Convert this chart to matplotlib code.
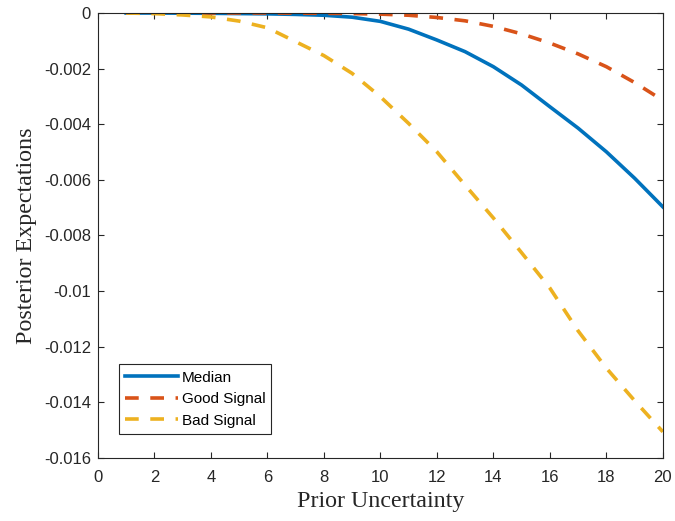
import numpy as np
import matplotlib
matplotlib.use("Agg")
import matplotlib.pyplot as plt

# values
prior_uncertainty = list(range(1, 21))
median = [0.0, 0.0, -0.000005, -0.00001, -0.00002, -0.00003, -0.00005, -0.00008,
          -0.00015, -0.0003, -0.00058, -0.00097, -0.00139, -0.00193, -0.00259,
          -0.00337, -0.00414, -0.00499, -0.00594, -0.00697]
good_signal = [0.0, 0.0, 0.0, 0.0, 0.0, 0.0, -0.000005, -0.00001, -0.00002,
               -0.00004, -0.00008, -0.00016, -0.00028, -0.00048, -0.00075,
               -0.00108, -0.00147, -0.00193, -0.0025, -0.00314]
bad_signal = [0.0, -0.00002, -0.00007, -0.00014, -0.00029, -0.00053, -0.00103,
              -0.00153, -0.00217, -0.00301, -0.00397, -0.00499, -0.00619,
              -0.00737, -0.00862, -0.00989, -0.01143, -0.01277, -0.01394, -0.01506]

x_ticks = list(range(0, 21, 2))
y_ticks = [0, -0.002, -0.004, -0.006, -0.008, -0.01, -0.012, -0.014, -0.016]
y_tick_labels = ["0", "-0.002", "-0.004", "-0.006", "-0.008", "-0.01",
                 "-0.012", "-0.014", "-0.016"]

plt.rcParams['font.family'] = ['Liberation Sans', 'DejaVu Sans']

fig = plt.figure(figsize=(6.75, 5.21), dpi=100)
ax = fig.add_axes([0.145, 0.121, 0.837, 0.854])

lw = 2.6
ax.plot(prior_uncertainty, median, color='#0072BD', lw=lw, label='Median')
ax.plot(prior_uncertainty, good_signal, color='#D95319', lw=lw,
        dashes=(3.8, 3.2), label='Good Signal')
ax.plot(prior_uncertainty, bad_signal, color='#EDB120', lw=lw,
        dashes=(3.8, 3.2), label='Bad Signal')

ax.set_xlim(0, 20)
ax.set_ylim(-0.016, 0)
ax.set_xticks(x_ticks)
ax.set_yticks(y_ticks)
ax.set_yticklabels(y_tick_labels)

ax.tick_params(direction='in', top=True, right=True, length=4.5, width=0.8,
               colors='#262626', labelsize=12, labelcolor='#262626')
ax.tick_params(axis='x', pad=9)
ax.tick_params(axis='y', pad=5)
for s in ax.spines.values():
    s.set_color('#262626')
    s.set_linewidth(0.8)

ax.set_xlabel('Prior Uncertainty', family='Liberation Serif', fontsize=17.3,
              color='#262626', labelpad=4)
ax.set_ylabel('Posterior Expectations', family='Liberation Serif', fontsize=17.3,
              color='#262626', labelpad=5)

leg = ax.legend(loc='lower left', bbox_to_anchor=(0.037, 0.054), borderaxespad=0,
                fontsize=11, handlelength=3.45, handletextpad=0.26,
                borderpad=0.4, labelspacing=0.5, fancybox=False, framealpha=1)
leg.get_frame().set_edgecolor('#262626')
leg.get_frame().set_linewidth(0.8)

fig.savefig('out.png', dpi=100)
